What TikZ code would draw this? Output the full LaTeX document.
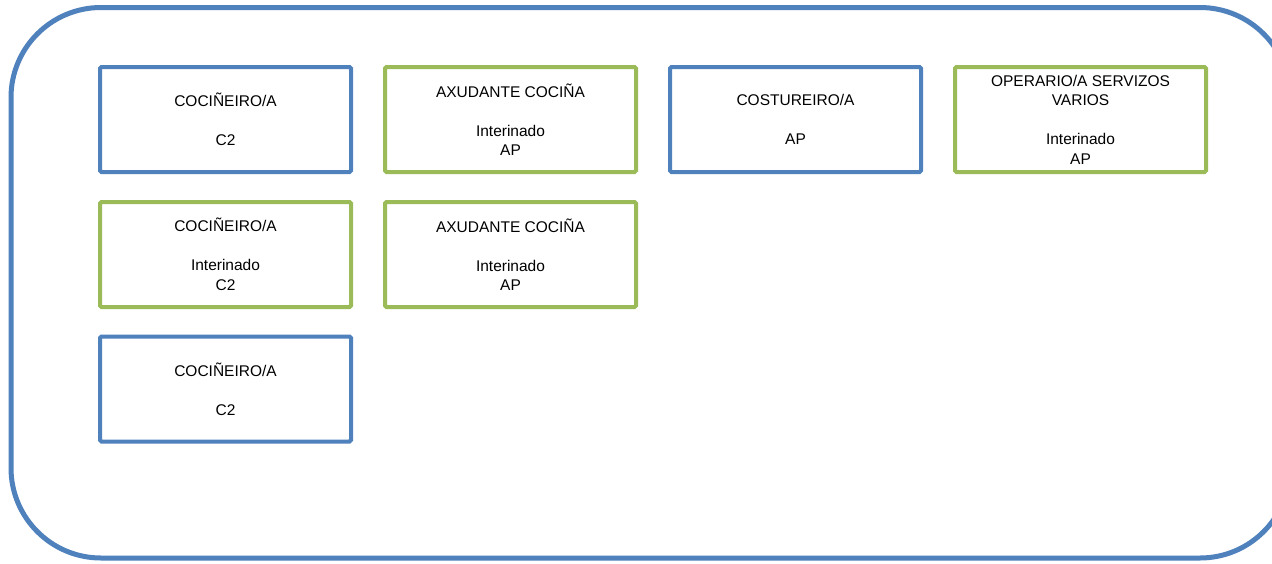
\documentclass[tikz,border=0pt]{standalone}
\usepackage{fontspec}
\setmainfont{Liberation Sans}
\definecolor{bblue}{HTML}{4F81BD}
\definecolor{bgreen}{HTML}{9BBB59}
\begin{document}
\begin{tikzpicture}[x=1pt,y=-1pt,
  card/.style={draw, line width=4pt, rounded corners=1.5pt, minimum width=251pt, minimum height=105pt, inner sep=0pt, fill=white},
  cardtext/.style={align=center, font=\fontsize{15.5}{19.5}\selectfont, text=black},
  bluecard/.style={card, draw=bblue},
  greencard/.style={card, draw=bgreen}]
\useasboundingbox (0,0) rectangle (1272,563);
\clip (0,0) rectangle (1272,563);
\fill[white] (0,0) rectangle (1272,563);
\draw[bblue, line width=5pt, rounded corners=90pt] (11,7.5) rectangle (1290,558);
% row 1
\node[bluecard] (b11) at (225.5,119.5) {};
\node[cardtext] (t11) at (b11.center) {COCIÑEIRO/A\\~\\C2};
\node[greencard] (b12) at (510.5,119.5) {};
\node[cardtext] (t12) at (b12.center) {AXUDANTE COCIÑA\\~\\Interinado\\AP};
\node[bluecard] (b13) at (795.5,119.5) {};
\node[cardtext] (t13) at (b13.center) {COSTUREIRO/A\\~\\AP};
\node[greencard] (b14) at (1080.5,119.5) {};
\node[cardtext] (t14) at (b14.center) {OPERARIO/A SERVIZOS\\VARIOS\\~\\Interinado\\AP};
% row 2
\node[greencard] (b21) at (225.5,254.5) {};
\node[cardtext] (t21) at (b21.center) {COCIÑEIRO/A\\~\\Interinado\\C2};
\node[greencard] (b22) at (510.5,254.5) {};
\node[cardtext] (t22) at (b22.center) {AXUDANTE COCIÑA\\~\\Interinado\\AP};
% row 3
\node[bluecard] (b31) at (225.5,389) {};
\node[cardtext] (t31) at (b31.center) {COCIÑEIRO/A\\~\\C2};
\end{tikzpicture}
\end{document}
